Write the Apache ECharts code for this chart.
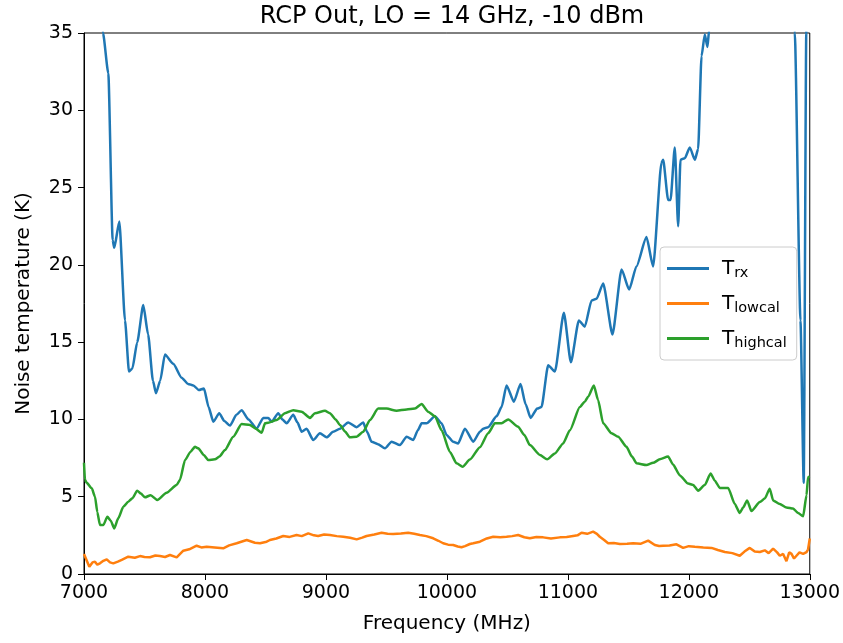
<!DOCTYPE html>
<html>
<head>
<meta charset="utf-8">
<script src="https://cdn.jsdelivr.net/npm/echarts@6/dist/echarts.min.js"></script>
<style>
  html, body { margin: 0; padding: 0; background: #fff; }
  #chart { width: 843px; height: 643px; }
</style>
</head>
<body>
<div id="chart"></div>
<script>
// values
var xTicks = [7000, 8000, 9000, 10000, 11000, 12000, 13000]
var yTicks = [0, 5, 10, 15, 20, 25, 30, 35]

var trxFreq = [7000, 7120, 7157, 7201, 7237, 7250, 7292, 7339, 7372, 7400, 7440, 7490, 7530, 7570, 7595, 7630, 7669, 7738, 7807, 7860,
  7904, 7950, 7992, 8030, 8069, 8118, 8160, 8207, 8260, 8303, 8360, 8427, 8482, 8523, 8551, 8606, 8640, 8675, 8730, 8765,
  8799, 8840, 8895, 8950, 9006, 9060, 9116, 9184, 9253, 9308, 9340, 9377, 9430, 9488, 9543, 9612, 9667, 9722, 9760, 9791,
  9832, 9901, 9956, 9997, 10052, 10093, 10149, 10218, 10273, 10300, 10341, 10411, 10452, 10493, 10554, 10609, 10650, 10692, 10747, 10782,
  10837, 10893, 10967, 11025, 11091, 11140, 11196, 11237, 11292, 11369, 11444, 11507, 11567, 11650, 11705, 11774, 11788, 11829, 11849, 11884,
  11912, 11931, 11967, 12008, 12050, 12077, 12105, 12132, 12154, 12168, 12200, 12400, 12700, 12850, 12876, 12923, 12950, 12971, 13000]
var trxVal = [50, 40, 35, 32.4, 21.6, 21.1, 22.8, 16.4, 13.1, 13.3, 15.0, 17.4, 15.5, 12.5, 11.7, 12.5, 14.2, 13.6, 12.7, 12.3,
  12.2, 11.9, 12.0, 10.8, 9.85, 10.4, 9.9, 9.6, 10.3, 10.6, 10.0, 9.4, 10.1, 10.1, 9.85, 10.4, 10.0, 9.75, 10.3, 9.8,
  9.2, 9.4, 8.67, 9.1, 8.84, 9.2, 9.4, 9.8, 9.5, 9.8, 9.2, 8.56, 8.4, 8.13, 8.56, 8.34, 8.88, 8.67, 9.3, 9.75,
  9.75, 10.2, 9.75, 9.0, 8.56, 8.45, 9.4, 8.56, 9.2, 9.4, 9.5, 10.2, 10.8, 12.2, 11.15, 12.3, 11.0, 10.1, 10.7, 10.8,
  13.5, 13.1, 16.9, 13.7, 16.4, 16.0, 17.7, 17.8, 18.8, 15.5, 19.7, 18.4, 19.9, 21.8, 19.9, 26.6, 26.8, 24.2, 24.2, 27.6,
  22.5, 26.8, 26.9, 27.6, 26.8, 27.5, 33.5, 34.9, 34.1, 35.2, 38, 50, 55, 40, 35, 16.4, 5.9, 35, 50]

var lowFreq = [7000, 7008, 7044, 7070, 7091, 7110, 7132, 7160, 7188, 7215, 7242, 7280, 7312, 7366, 7420, 7463, 7500, 7545, 7590, 7628,
  7670, 7711, 7766, 7821, 7870, 7931, 7970, 8014, 8080, 8151, 8200, 8262, 8345, 8413, 8455, 8510, 8537, 8590, 8647, 8700,
  8758, 8800, 8854, 8900, 8936, 8985, 9033, 9090, 9143, 9200, 9254, 9300, 9336, 9400, 9460, 9510, 9556, 9620, 9680, 9730,
  9777, 9830, 9887, 9930, 9969, 10010, 10052, 10090, 10121, 10150, 10190, 10218, 10273, 10330, 10383, 10440, 10493, 10540, 10589, 10640,
  10686, 10740, 10796, 10860, 10934, 10990, 11044, 11080, 11113, 11160, 11209, 11240, 11264, 11300, 11333, 11380, 11430, 11490, 11540, 11600,
  11664, 11719, 11755, 11788, 11840, 11898, 11953, 12000, 12050, 12120, 12188, 12240, 12298, 12360, 12421, 12460, 12504, 12545, 12587, 12628,
  12660, 12697, 12730, 12752, 12780, 12807, 12830, 12849, 12870, 12890, 12915, 12945, 12973, 12986, 13000]
var lowVal = [1.3, 1.2, 0.47, 0.75, 0.8, 0.6, 0.69, 0.85, 0.95, 0.75, 0.69, 0.8, 0.91, 1.12, 1.05, 1.16, 1.1, 1.08, 1.2, 1.16,
  1.1, 1.23, 1.08, 1.51, 1.6, 1.83, 1.72, 1.77, 1.72, 1.66, 1.85, 1.99, 2.2, 2.02, 1.99, 2.09, 2.2, 2.3, 2.46, 2.4,
  2.52, 2.45, 2.63, 2.5, 2.46, 2.55, 2.52, 2.45, 2.41, 2.35, 2.24, 2.35, 2.46, 2.55, 2.67, 2.6, 2.59, 2.62, 2.67, 2.6,
  2.52, 2.45, 2.31, 2.15, 1.99, 1.9, 1.88, 1.78, 1.73, 1.8, 1.94, 1.99, 2.09, 2.3, 2.41, 2.38, 2.41, 2.45, 2.52, 2.38,
  2.31, 2.4, 2.37, 2.3, 2.37, 2.4, 2.46, 2.5, 2.67, 2.6, 2.74, 2.6, 2.41, 2.2, 1.99, 2.0, 1.94, 1.95, 1.99, 1.95,
  2.16, 1.88, 1.81, 1.83, 1.85, 1.92, 1.69, 1.8, 1.76, 1.72, 1.69, 1.55, 1.42, 1.35, 1.18, 1.45, 1.69, 1.45, 1.42, 1.53,
  1.35, 1.64, 1.4, 1.18, 1.3, 0.83, 1.4, 1.3, 1.0, 1.18, 1.4, 1.3, 1.42, 1.6, 2.3]

var highFreq = [7000, 7008, 7022, 7064, 7091, 7110, 7132, 7160, 7193, 7221, 7250, 7283, 7325, 7366, 7400, 7440, 7470, 7504, 7551, 7606,
  7683, 7766, 7793, 7835, 7880, 7917, 7945, 7990, 8027, 8083, 8120, 8165, 8234, 8303, 8372, 8420, 8469, 8496, 8523, 8593,
  8661, 8730, 8799, 8868, 8909, 8992, 9033, 9080, 9116, 9160, 9198, 9254, 9308, 9364, 9432, 9502, 9584, 9667, 9736, 9791,
  9845, 9901, 9956, 10025, 10080, 10130, 10190, 10273, 10341, 10397, 10452, 10507, 10589, 10640, 10686, 10769, 10829, 10893, 10961, 11017,
  11099, 11140, 11168, 11215, 11250, 11292, 11361, 11416, 11485, 11530, 11568, 11650, 11705, 11760, 11829, 11870, 11926, 11994, 12036, 12077,
  12132, 12180, 12215, 12256, 12325, 12380, 12421, 12449, 12482, 12518, 12587, 12628, 12669, 12697, 12752, 12807, 12862, 12903, 12945, 12973,
  12986, 13000]
var highVal = [7.2, 6.1, 5.9, 5.54, 5.0, 4.0, 3.17, 3.17, 3.7, 3.45, 2.95, 3.6, 4.35, 4.68, 4.9, 5.39, 5.2, 4.96, 5.1, 4.79,
  5.26, 5.76, 6.08, 7.37, 7.9, 8.23, 8.13, 7.7, 7.37, 7.42, 7.6, 8.02, 8.88, 9.7, 9.64, 9.4, 9.14, 9.75, 9.79, 9.96,
  10.4, 10.6, 10.5, 10.1, 10.4, 10.56, 10.4, 10.0, 9.64, 9.2, 8.84, 8.88, 9.2, 9.96, 10.7, 10.7, 10.56, 10.65, 10.7, 11.0,
  10.5, 10.2, 9.3, 7.9, 7.16, 6.94, 7.4, 8.2, 9.1, 9.75, 9.75, 10.0, 9.53, 9.0, 8.34, 7.7, 7.42, 7.8, 8.45, 9.3,
  10.8, 11.15, 11.47, 12.2, 11.25, 9.75, 9.1, 8.88, 8.23, 7.6, 7.16, 7.05, 7.19, 7.42, 7.6, 7.08, 6.38, 5.85, 5.76, 5.39,
  5.76, 6.5, 6.04, 5.57, 5.57, 4.53, 3.95, 4.3, 4.76, 4.07, 4.65, 4.88, 5.52, 4.76, 4.53, 4.3, 4.23, 3.95, 3.73, 5.1,
  6.27, 6.3]

function pairs(xs, ys) {
  return xs.map(function (x, i) { return [x, ys[i]] })
}

var font = 'DejaVu Sans'
var chart = echarts.init(document.getElementById('chart'))

chart.setOption({
  backgroundColor: '#fff',
  animation: false,
  textStyle: { fontFamily: font, color: '#000' },
  title: {
    text: 'RCP Out, LO = 14 GHz, -10 dBm',
    left: 447,
    textAlign: 'center',
    top: 0,
    textStyle: { fontFamily: font, fontSize: 24, fontWeight: 'normal', color: '#000' }
  },
  grid: {
    left: 84,
    right: 33,
    top: 33,
    bottom: 69,
    show: true,
    borderColor: '#000',
    borderWidth: 1
  },
  xAxis: {
    type: 'value',
    min: xTicks[0],
    max: xTicks[xTicks.length - 1],
    interval: 1000,
    name: 'Frequency (MHz)',
    nameLocation: 'middle',
    nameGap: 40,
    nameTextStyle: { fontFamily: font, fontSize: 20, color: '#000' },
    axisLine: { show: true, lineStyle: { color: '#000', width: 1 } },
    axisTick: { show: true, length: 6, lineStyle: { color: '#000' } },
    axisLabel: {
      margin: 10,
      fontFamily: font,
      fontSize: 19,
      color: '#000',
      formatter: function (v) { return String(v) }
    },
    splitLine: { show: false }
  },
  yAxis: {
    type: 'value',
    min: yTicks[0],
    max: yTicks[yTicks.length - 1],
    interval: 5,
    name: 'Noise temperature (K)',
    nameLocation: 'middle',
    nameRotate: 90,
    nameGap: 50,
    nameTextStyle: { fontFamily: font, fontSize: 20, color: '#000' },
    axisLine: { show: true, lineStyle: { color: '#000', width: 1 } },
    axisTick: { show: true, length: 6, lineStyle: { color: '#000' } },
    axisLabel: { margin: 11, fontFamily: font, fontSize: 19, color: '#000' },
    splitLine: { show: false }
  },
  legend: {
    orient: 'vertical',
    left: 660,
    top: 247,
    padding: [9, 10, 9, 7],
    icon: 'rect',
    itemWidth: 42,
    itemHeight: 3,
    itemGap: 10,
    backgroundColor: 'rgba(255,255,255,0.8)',
    borderColor: '#cccccc',
    borderWidth: 1,
    borderRadius: 4,
    data: ['Trx', 'Tlowcal', 'Thighcal'],
    formatter: function (name) {
      return '{t|T}{s|' + name.slice(1) + '}'
    },
    textStyle: {
      padding: [0, 0, 0, 8],
      rich: {
        t: { fontFamily: font, fontSize: 20, color: '#000', lineHeight: 26 },
        s: { fontFamily: font, fontSize: 14.5, color: '#000', lineHeight: 26, padding: [10, 0, 0, 0] }
      }
    }
  },
  series: [
    {
      name: 'Trx',
      type: 'line',
      data: pairs(trxFreq, trxVal),
      symbol: 'none',
      smooth: 0.2,
      smoothMonotone: 'x',
      clip: true,
      lineStyle: { color: '#1f77b4', width: 2.5 },
      itemStyle: { color: '#1f77b4' }
    },
    {
      name: 'Tlowcal',
      type: 'line',
      data: pairs(lowFreq, lowVal),
      symbol: 'none',
      clip: true,
      lineStyle: { color: '#ff7f0e', width: 2.5 },
      itemStyle: { color: '#ff7f0e' }
    },
    {
      name: 'Thighcal',
      type: 'line',
      data: pairs(highFreq, highVal),
      symbol: 'none',
      smooth: 0.2,
      smoothMonotone: 'x',
      clip: true,
      lineStyle: { color: '#2ca02c', width: 2.5 },
      itemStyle: { color: '#2ca02c' }
    }
  ]
})
</script>
</body>
</html>
